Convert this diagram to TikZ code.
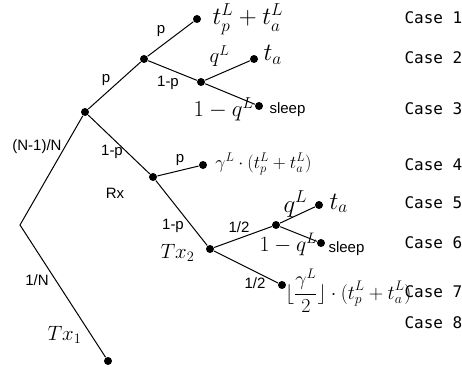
\documentclass[tikz,border=0pt]{standalone}
\usepackage[no-math]{fontspec}
\setmainfont{Liberation Sans}
\newfontfamily\casefont{DejaVu Sans Mono}
\begin{document}
\begin{tikzpicture}[x=1pt,y=-1pt,line width=1pt,
  dot/.style={circle,fill=black,inner sep=0pt,minimum size=8pt},
  lbl/.style={font=\fontsize{15}{18}\selectfont,inner sep=0pt},
  mth/.style={font=\fontsize{#1}{#1}\selectfont,inner sep=0pt,anchor=base west},
  mth/.default=20,
  wrd/.style={font=\fontsize{15}{18}\selectfont,inner sep=0pt,anchor=base west},
  cs/.style={font=\casefont\fontsize{16}{18}\selectfont,inner sep=0pt,anchor=base west}]
\useasboundingbox (0,0) rectangle (462,366);
% nodes
\coordinate (R) at (20,225);
\node[dot] (A) at (85,112) {};
\node[dot] (B) at (144,59) {};
\node[dot] (C1) at (197,19) {};
\node[dot] (C2) at (201,82) {};
\node[dot] (L2) at (254,59) {};
\node[dot] (L3) at (259,106) {};
\node[dot] (D) at (153,177) {};
\node[dot] (L4) at (203,165) {};
\node[dot] (T2) at (210,249) {};
\node[dot] (E) at (276,225) {};
\node[dot] (L5) at (319,205) {};
\node[dot] (L6) at (321,243) {};
\node[dot] (L7) at (282,285) {};
\node[dot] (T1) at (108,361) {};
% edges
\draw (A) -- (R) -- (T1);
\draw (A) -- (B);
\draw (B) -- (C1);
\draw (B) -- (C2);
\draw (C2) -- (L2);
\draw (C2) -- (L3);
\draw (A) -- (D);
\draw (D) -- (L4);
\draw (D) -- (T2);
\draw (T2) -- (E);
\draw (E) -- (L5);
\draw (E) -- (L6);
\draw (T2) -- (L7);
% edge labels
\node[lbl] (lp1) at (106,80) {p};
\node[lbl] (lp2) at (161,31) {p};
\node[lbl] (lq1) at (168,83) {1-p};
\node[lbl] (lN1) at (37,147) {(N-1)/N};
\node[lbl] (lq2) at (112,152) {1-p};
\node[lbl] (lRx) at (115,193) {Rx};
\node[lbl] (lp3) at (180,160) {p};
\node[lbl] (lq3) at (173,226) {1-p};
\node[lbl] (lh1) at (239,227) {1/2};
\node[lbl] (lh2) at (255,283) {1/2};
\node[lbl] (lN2) at (37,280) {1/N};
% math labels
\node[mth=23.5] (m1) at (212,25) {$t_p^L + t_a^L$};
\node[mth=22] (m2) at (209,63) {$q^L$};
\node[mth=27] (m3) at (263,61) {$t_a$};
\node[mth=20,scale=1.1] (m4) at (193,117) {$1-q^L$};
\node[wrd] (w1) at (269,114) {sleep};
\node[mth=20,scale=0.87] (m5) at (215,168) {$\gamma^L\cdot(t_p^L+t_a^L)$};
\node[mth=23] (m6) at (283,212) {$q^L$};
\node[mth=25] (m7) at (329,209) {$t_a$};
\node[mth=20,scale=1.05] (m8) at (259,251) {$1-q^L$};
\node[wrd] (w2) at (328,252) {sleep};
\node[mth=20,scale=0.96] (m9) at (285,299) {$\displaystyle\lfloor\frac{\gamma^L}{2}\rfloor\cdot(t_p^L+t_a^L)$};
\node[mth=21] (mT2) at (160,258) {$Tx_2$};
\node[mth=21] (mT1) at (47,340) {$Tx_1$};
% cases
\node[cs] (c1) at (404,24) {Case 1};
\node[cs] (c2) at (404,64) {Case 2};
\node[cs] (c3) at (404,115) {Case 3};
\node[cs] (c4) at (404,170) {Case 4};
\node[cs] (c5) at (404,208) {Case 5};
\node[cs] (c6) at (404,248) {Case 6};
\node[cs] (c7) at (404,297) {Case 7};
\node[cs] (c8) at (404,328) {Case 8};
\end{tikzpicture}
\end{document}
